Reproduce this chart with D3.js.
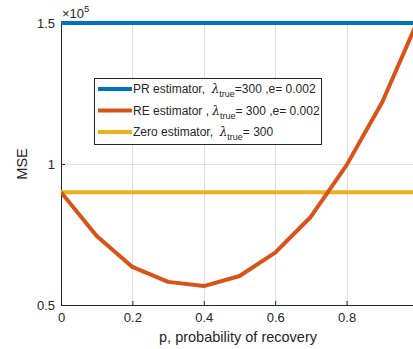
<!DOCTYPE html>
<html>
<head>
<meta charset="utf-8">
<script src="https://cdn.jsdelivr.net/npm/d3@7"></script>
<style>
  body { margin: 0; background: #fff; }
  text { font-family: "Liberation Sans", Arial, sans-serif; fill: #262626; }
</style>
</head>
<body>
<svg id="chart" width="413" height="349"></svg>
<script>
// values (MSE in units of 1e5)
const pValues = [0, 0.1, 0.2, 0.3, 0.4, 0.5, 0.6, 0.7, 0.8, 0.9, 1.0];
const reMse = [0.9, 0.745, 0.635, 0.582, 0.567, 0.603, 0.686, 0.813, 0.996, 1.22, 1.51];
const prMse = [1.5, 1.5];
const zeroMse = [0.9, 0.9];
const xTicks = [0, 0.2, 0.4, 0.6, 0.8];
const yTicks = [0.5, 1, 1.5];
const seriesNames = ["PR", "RE", "Zero"];

const svg = d3.select("#chart"),
  margin = { top: 23, left: 61, bottom: 44 },
  height = +svg.attr("height");

const x = d3.scaleLinear().domain([0, 1]).range([margin.left, 418]);
const y = d3.scaleLinear().domain([0.5, 1.5]).range([height - margin.bottom, margin.top]);

const colors = { PR: "#0072BD", RE: "#D95319", Zero: "#EDB120" };

svg.append("defs").append("clipPath").attr("id", "plot")
  .append("rect").attr("x", x(0)).attr("y", y(1.5) - 3)
  .attr("width", 420).attr("height", y(0.5) - y(1.5) + 3);

// grid
const grid = svg.append("g").attr("stroke", "#dfdfdf").attr("stroke-width", 1);
grid.selectAll(".vx").data(xTicks.slice(1)).join("line")
  .attr("x1", d => Math.round(x(d)) + 0.5).attr("x2", d => Math.round(x(d)) + 0.5)
  .attr("y1", y(1.5)).attr("y2", y(0.5));
grid.selectAll(".hy").data(yTicks.slice(1)).join("line")
  .attr("x1", x(0)).attr("x2", 413)
  .attr("y1", d => Math.round(y(d)) + 0.5).attr("y2", d => Math.round(y(d)) + 0.5);

// axes
const xAxis = svg.append("g")
  .attr("transform", `translate(0,${y(0.5)})`)
  .call(d3.axisBottom(x).tickValues(xTicks).tickSizeInner(-4).tickSizeOuter(0).tickPadding(8)
    .tickFormat(d => d === 0 ? "0" : d3.format(".1f")(d)));
const yAxis = svg.append("g")
  .attr("transform", `translate(${x(0)},0)`)
  .call(d3.axisLeft(y).tickValues(yTicks).tickSizeInner(-4).tickSizeOuter(0).tickPadding(6)
    .tickFormat(d => d === 1 ? "1" : d3.format(".1f")(d)));
[xAxis, yAxis].forEach(a => {
  a.select(".domain").attr("stroke", "#262626");
  a.selectAll(".tick line").attr("stroke", "#262626");
  a.selectAll(".tick text").attr("font-size", 13).attr("fill", "#262626")
    .style("font-family", "Liberation Sans, Arial, sans-serif");
});

// lines
const line = d3.line().x(d => x(d[0])).y(d => y(d[1]));
const plot = svg.append("g").attr("clip-path", "url(#plot)")
  .attr("fill", "none").attr("stroke-width", 4);
plot.append("path").datum(zeroMse.map((v, i) => [i, v]))
  .attr("stroke", colors.Zero).attr("d", line);
plot.append("path").datum(pValues.map((p, i) => [p, reMse[i]]))
  .attr("stroke", colors.RE).attr("stroke-linejoin", "round").attr("d", line);
plot.append("path").datum(prMse.map((v, i) => [i, v]))
  .attr("stroke", colors.PR).attr("d", line);

// exponent label
const ex = svg.append("text").attr("x", x(0) + 1).attr("y", 18).attr("font-size", 13);
ex.append("tspan").text("×10");
ex.append("tspan").attr("dy", -6).attr("font-size", 9.5).text("5");

// axis labels
svg.append("text").attr("x", 238).attr("y", 342).attr("text-anchor", "middle")
  .attr("font-size", 14.5).text("p, probability of recovery");
svg.append("text").attr("transform", `translate(27,${y(1)}) rotate(-90)`)
  .attr("text-anchor", "middle").attr("font-size", 14.5).text("MSE");

// legend
const legendItems = [
  { key: seriesNames[0], pre: "PR estimator,  ", post: "=300 ,e= 0.002" },
  { key: seriesNames[1], pre: "RE estimator , ", post: "= 300 ,e= 0.002" },
  { key: seriesNames[2], pre: "Zero estimator,  ", post: "= 300" }
];
const legend = svg.append("g");
legend.append("rect").attr("x", 94.5).attr("y", 78.5).attr("width", 227).attr("height", 66)
  .attr("fill", "#fff").attr("stroke", "#262626").attr("stroke-width", 1);
legendItems.forEach((d, i) => {
  const ly = 89 + i * 21.5;
  legend.append("line").attr("x1", 98).attr("x2", 132).attr("y1", ly).attr("y2", ly)
    .attr("stroke", colors[d.key]).attr("stroke-width", 4);
  const t = legend.append("text").attr("x", 133).attr("y", ly + 4).attr("font-size", 12)
    .attr("xml:space", "preserve");
  t.append("tspan").text(d.pre);
  t.append("tspan").attr("font-style", "italic").attr("font-family", "DejaVu Serif, serif").text("λ");
  t.append("tspan").attr("dy", 4).attr("font-size", 9).text("true");
  t.append("tspan").attr("dy", -4).text(d.post);
});
</script>
</body>
</html>
